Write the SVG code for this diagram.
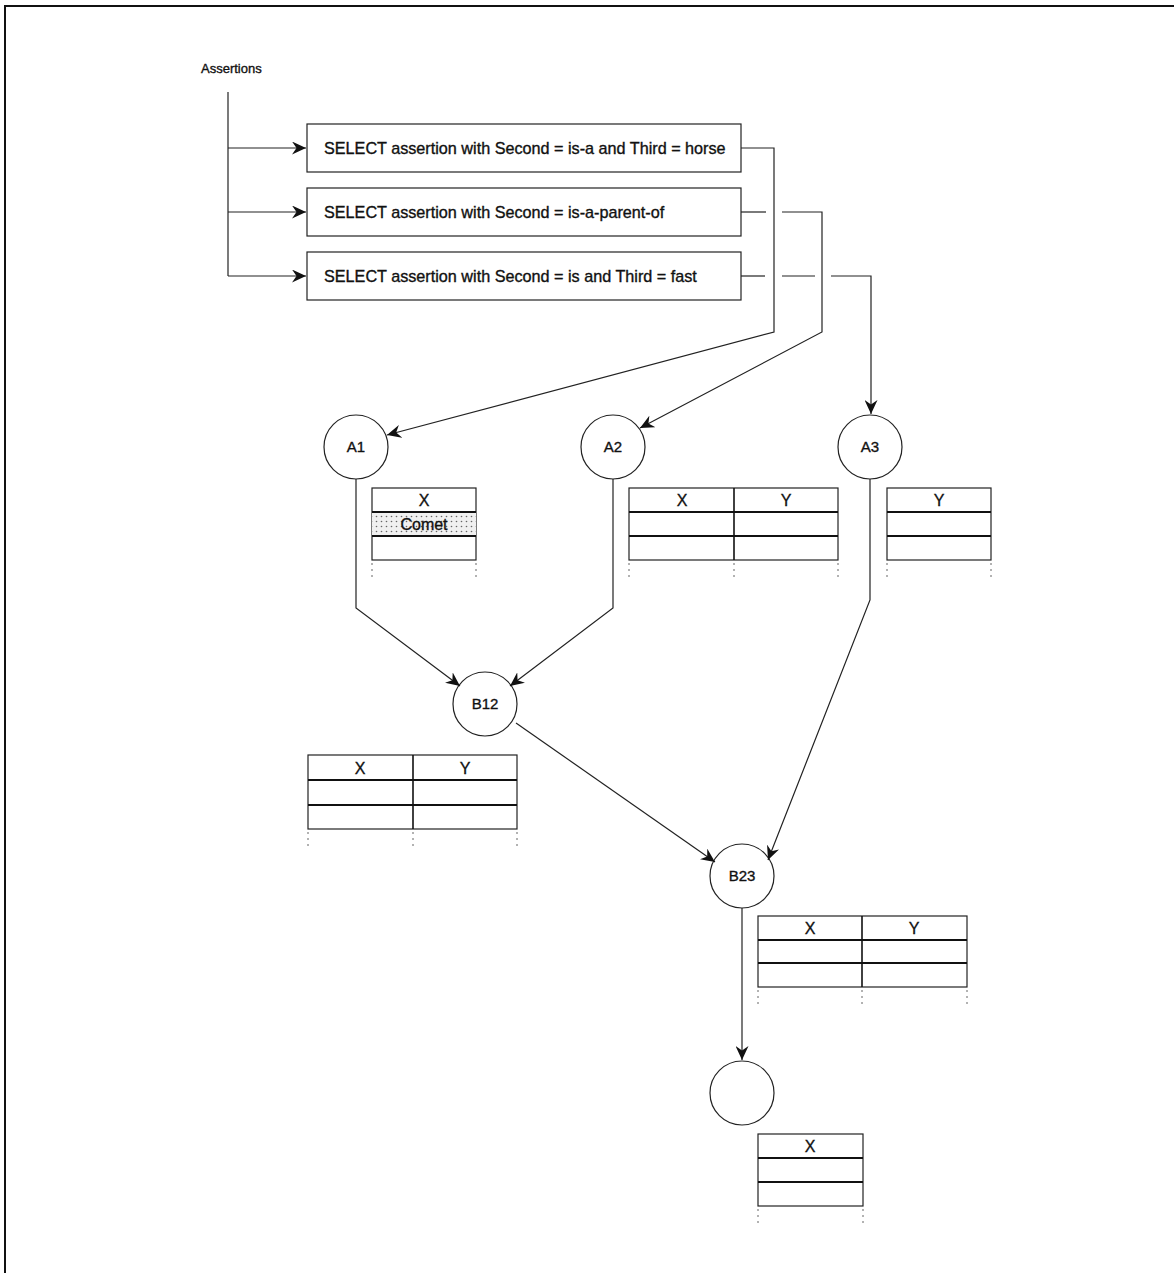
<svg xmlns="http://www.w3.org/2000/svg" width="1174" height="1273" viewBox="0 0 1174 1273">
<style>
  text { font-family: "Liberation Sans", Arial, Helvetica, sans-serif; fill: #111; stroke: #111; stroke-width: 0.35; }
  .lbl { font-size: 13px; }
  .sel { font-size: 16.2px; }
  .hdr { font-size: 16px; text-anchor: middle; }
  .cl { font-size: 15px; text-anchor: middle; }
  .node { fill: #fff; stroke: #222; stroke-width: 1.2; }
  .box { fill: #fff; stroke: #222; stroke-width: 1.2; }
  .conn { fill: none; stroke: #222; stroke-width: 1.2; }
  .tbl { fill: #fff; stroke: #222; stroke-width: 1.2; }
  .inner { stroke: #111; stroke-width: 2; }
  .mid { stroke: #111; stroke-width: 1.6; }
  .dots { stroke: #666; stroke-width: 1; stroke-dasharray: 2 4; }
</style>
<defs>
  <marker id="arr" markerUnits="userSpaceOnUse" markerWidth="15" markerHeight="13" refX="14" refY="6.5" orient="auto">
    <path d="M0,0 L14,6.5 L0,13 L4.5,6.5 Z" fill="#111"/>
  </marker>
  <pattern id="stipple" width="5" height="5" patternUnits="userSpaceOnUse">
    <rect width="5" height="5" fill="#f0f0f0"/>
    <circle cx="1.5" cy="1.5" r="0.8" fill="#666"/>
  </pattern>
</defs>
<rect width="1174" height="1273" fill="#fff"/>
<g id="frame">
  <line x1="4" y1="6" x2="1174" y2="6" stroke="#111" stroke-width="2"/>
  <line x1="5" y1="5" x2="5" y2="1273" stroke="#111" stroke-width="2"/>
</g>
<g id="assertions"><text class="lbl" x="201" y="73">Assertions</text></g>
<g id="select1"><rect class="box" x="307" y="124" width="434" height="48"/><text class="sel" x="324" y="154">SELECT assertion with Second = is-a and Third = horse</text></g>
<g id="select2"><rect class="box" x="307" y="188" width="434" height="48"/><text class="sel" x="324" y="218">SELECT assertion with Second = is-a-parent-of</text></g>
<g id="select3"><rect class="box" x="307" y="252" width="434" height="48"/><text class="sel" x="324" y="282">SELECT assertion with Second = is and Third = fast</text></g>
<g id="A1"><circle class="node" cx="356" cy="447" r="32"/><text class="cl" x="356" y="452">A1</text></g>
<g id="A2"><circle class="node" cx="613" cy="447" r="32"/><text class="cl" x="613" y="452">A2</text></g>
<g id="A3"><circle class="node" cx="870" cy="447" r="32"/><text class="cl" x="870" y="452">A3</text></g>
<g id="B12"><circle class="node" cx="485" cy="704" r="32"/><text class="cl" x="485" y="709">B12</text></g>
<g id="B23"><circle class="node" cx="742" cy="876" r="32"/><text class="cl" x="742" y="881">B23</text></g>
<g id="result"><circle class="node" cx="742" cy="1093" r="32"/></g>
<g id="tableA1">
  <rect class="tbl" x="372" y="488" width="104" height="72"/>
  <rect x="372" y="512" width="104" height="24" fill="url(#stipple)"/>
  <line class="inner" x1="372" y1="512" x2="476" y2="512"/>
  <line class="inner" x1="372" y1="536" x2="476" y2="536"/>
  <text class="hdr" x="424" y="506">X</text>
  <text class="hdr" x="424" y="530">Comet</text>
  <line class="dots" x1="372" y1="563" x2="372" y2="581"/>
  <line class="dots" x1="476" y1="563" x2="476" y2="581"/>
</g>
<g id="tableA2">
  <rect class="tbl" x="629" y="488" width="209" height="72"/>
  <line class="inner" x1="629" y1="512" x2="838" y2="512"/>
  <line class="inner" x1="629" y1="536" x2="838" y2="536"/>
  <line class="mid" x1="734" y1="488" x2="734" y2="560"/>
  <text class="hdr" x="682" y="506">X</text>
  <text class="hdr" x="786" y="506">Y</text>
  <line class="dots" x1="629" y1="563" x2="629" y2="581"/>
  <line class="dots" x1="734" y1="563" x2="734" y2="581"/>
  <line class="dots" x1="838" y1="563" x2="838" y2="581"/>
</g>
<g id="tableA3">
  <rect class="tbl" x="887" y="488" width="104" height="72"/>
  <line class="inner" x1="887" y1="512" x2="991" y2="512"/>
  <line class="inner" x1="887" y1="536" x2="991" y2="536"/>
  <text class="hdr" x="939" y="506">Y</text>
  <line class="dots" x1="887" y1="563" x2="887" y2="581"/>
  <line class="dots" x1="991" y1="563" x2="991" y2="581"/>
</g>
<g id="tableB12">
  <rect class="tbl" x="308" y="755" width="209" height="74"/>
  <line class="inner" x1="308" y1="780" x2="517" y2="780"/>
  <line class="inner" x1="308" y1="805" x2="517" y2="805"/>
  <line class="mid" x1="413" y1="755" x2="413" y2="829"/>
  <text class="hdr" x="360" y="774">X</text>
  <text class="hdr" x="465" y="774">Y</text>
  <line class="dots" x1="308" y1="832" x2="308" y2="850"/>
  <line class="dots" x1="413" y1="832" x2="413" y2="850"/>
  <line class="dots" x1="517" y1="832" x2="517" y2="850"/>
</g>
<g id="tableB23">
  <rect class="tbl" x="758" y="916" width="209" height="71"/>
  <line class="inner" x1="758" y1="940" x2="967" y2="940"/>
  <line class="inner" x1="758" y1="963" x2="967" y2="963"/>
  <line class="mid" x1="862" y1="916" x2="862" y2="987"/>
  <text class="hdr" x="810" y="934">X</text>
  <text class="hdr" x="914" y="934">Y</text>
  <line class="dots" x1="758" y1="990" x2="758" y2="1008"/>
  <line class="dots" x1="862" y1="990" x2="862" y2="1008"/>
  <line class="dots" x1="967" y1="990" x2="967" y2="1008"/>
</g>
<g id="tableResult">
  <rect class="tbl" x="758" y="1134" width="105" height="72"/>
  <line class="inner" x1="758" y1="1158" x2="863" y2="1158"/>
  <line class="inner" x1="758" y1="1182" x2="863" y2="1182"/>
  <text class="hdr" x="810" y="1152">X</text>
  <line class="dots" x1="758" y1="1209" x2="758" y2="1227"/>
  <line class="dots" x1="863" y1="1209" x2="863" y2="1227"/>
</g>
<g id="connectors">
  <path class="conn" d="M228,92 V276"/>
  <path class="conn" d="M228,148 H306" marker-end="url(#arr)"/>
  <path class="conn" d="M228,212 H306" marker-end="url(#arr)"/>
  <path class="conn" d="M228,276 H306" marker-end="url(#arr)"/>
  <path class="conn" d="M741,148 H774 V332 L387,435" marker-end="url(#arr)"/>
  <path class="conn" d="M741,212 H766"/>
  <path class="conn" d="M782,212 H822 V332 L640,428" marker-end="url(#arr)"/>
  <path class="conn" d="M741,276 H765"/>
  <path class="conn" d="M782,276 H815"/>
  <path class="conn" d="M831,276 H871 V414" marker-end="url(#arr)"/>
  <path class="conn" d="M356,479 V608 L460,686" marker-end="url(#arr)"/>
  <path class="conn" d="M613,479 V608 L510,686" marker-end="url(#arr)"/>
  <path class="conn" d="M870,479 V600 L768,860" marker-end="url(#arr)"/>
  <path class="conn" d="M516,723 L715,862" marker-end="url(#arr)"/>
  <path class="conn" d="M742,908 V1060" marker-end="url(#arr)"/>
</g>
</svg>
